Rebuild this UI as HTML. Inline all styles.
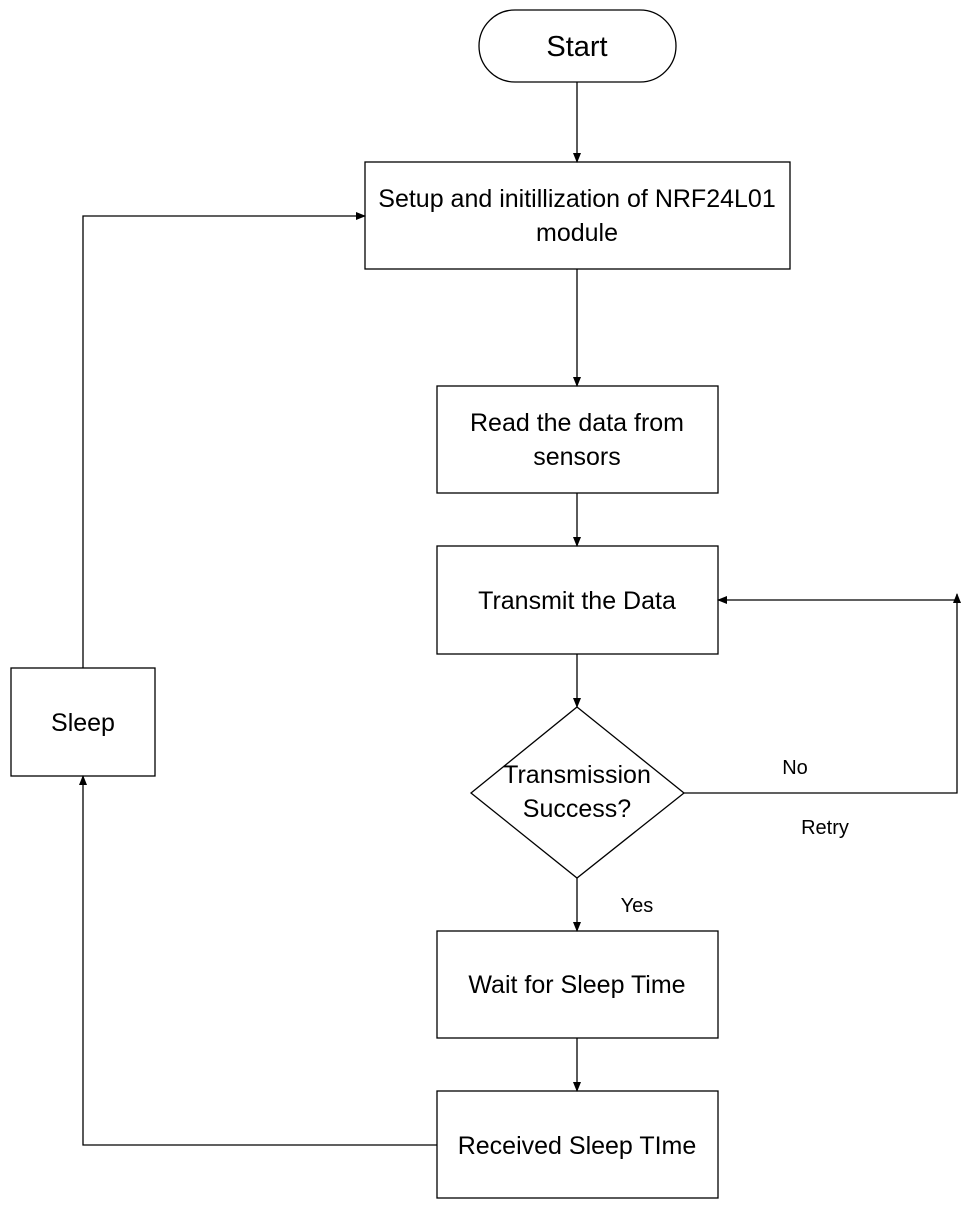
<!DOCTYPE html>
<html><head><style>body{margin:0;background:#fff}svg{display:block}text{font-family:"Liberation Sans",sans-serif;fill:#000}</style></head><body>
<svg width="972" height="1210" viewBox="0 0 972 1210" xmlns="http://www.w3.org/2000/svg">
<defs><marker id="a" markerWidth="10" markerHeight="10" refX="9" refY="5" orient="auto" markerUnits="userSpaceOnUse"><path d="M0,1 L10,5 L0,9 z" fill="#000"/></marker></defs>
<g fill="none" stroke="#000" stroke-width="1.3">
<rect x="479" y="10" width="197" height="72" rx="36"/>
<rect x="365" y="162" width="425" height="107"/>
<rect x="437" y="386" width="281" height="107"/>
<rect x="437" y="546" width="281" height="108"/>
<polygon points="577,707 684,793 577,878 471,793"/>
<rect x="437" y="931" width="281" height="107"/>
<rect x="437" y="1091" width="281" height="107"/>
<rect x="11" y="668" width="144" height="108"/>
<g marker-end="url(#a)">
<line x1="577" y1="82" x2="577" y2="162"/>
<line x1="577" y1="269" x2="577" y2="386"/>
<line x1="577" y1="493" x2="577" y2="546"/>
<line x1="577" y1="654" x2="577" y2="707"/>
<polyline points="684,793 957,793 957,594"/>
<line x1="957" y1="600" x2="718" y2="600"/>
<line x1="577" y1="878" x2="577" y2="931"/>
<line x1="577" y1="1038" x2="577" y2="1091"/>
<polyline points="437,1145 83,1145 83,776"/>
<polyline points="83,668 83,216 365,216"/>
</g></g>
<g text-anchor="middle" font-size="25">
<text x="577" y="56" font-size="29">Start</text>
<text x="577" y="207">Setup and initillization of NRF24L01</text>
<text x="577" y="241">module</text>
<text x="577" y="431">Read the data from</text>
<text x="577" y="465">sensors</text>
<text x="577" y="609">Transmit the Data</text>
<text x="577" y="783">Transmission</text>
<text x="577" y="817">Success?</text>
<text x="577" y="993">Wait for Sleep Time</text>
<text x="577" y="1154">Received Sleep TIme</text>
<text x="83" y="731">Sleep</text>
<text x="795" y="774" font-size="20">No</text>
<text x="825" y="834" font-size="20">Retry</text>
<text x="637" y="912" font-size="20">Yes</text>
</g>
</svg>
</body></html>
